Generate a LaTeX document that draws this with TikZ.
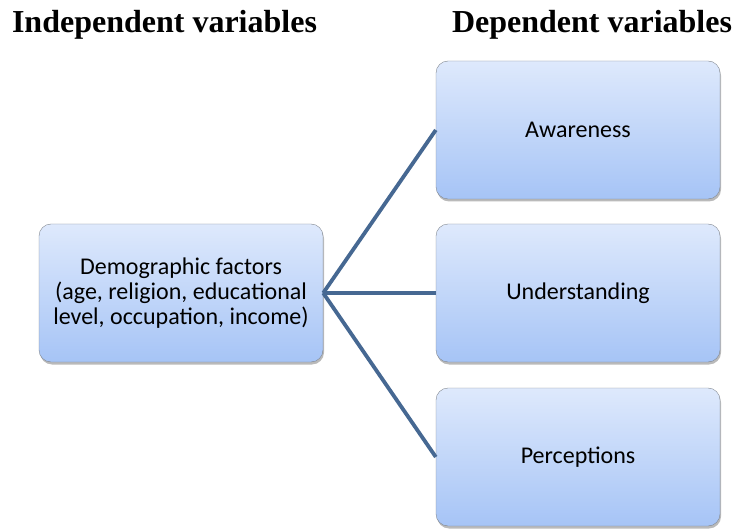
\documentclass[tikz,border=0pt]{standalone}
\usepackage{fontspec}
\setmainfont{Liberation Serif}
\newfontfamily\boxfont{Carlito}
\usepackage{tikz}
\usetikzlibrary{
  arrows.meta,
  shadows
}
\definecolor{boxtop}{RGB}{222,233,252}
\definecolor{boxbottom}{RGB}{166,196,246}
\definecolor{boxedge}{RGB}{128,134,142}
\definecolor{linkblue}{RGB}{70,104,146}
\tikzset{
  varbox/.style={draw=boxedge,thin,top color=boxtop,bottom color=boxbottom,
    rounded corners=12pt,align=center,inner sep=0pt,
    minimum width=284pt,minimum height=138pt,
    font=\boxfont\fontsize{24}{25}\selectfont,
    drop shadow={shadow xshift=1pt,shadow yshift=-2.5pt,opacity=0.45,fill=black!60}},
  link/.style={line width=3.8pt,draw=linkblue},
  heading/.style={font=\bfseries\fontsize{32}{36}\selectfont,inner sep=0pt,anchor=base}
}
\begin{document}
\begin{tikzpicture}[x=1pt,y=-1pt]
  \useasboundingbox (0,0) rectangle (736,529);
  \node[heading] (indep) at (164.5,33) {Independent variables};
  \node[heading] (dep) at (592,33) {Dependent variables};
  \node[varbox] (demo) at (181,293) {Demographic factors\\(age, religion, educational\\level, occupation, income)};
  \node[varbox] (aware) at (578,130) {Awareness};
  \node[varbox] (under) at (578,293) {Understanding};
  \node[varbox] (perc) at (578,457) {Perceptions};
  \draw[link] (demo.east)--(aware.west);
  \draw[link] (demo.east)--(under.west);
  \draw[link] (demo.east)--(perc.west);
\end{tikzpicture}
\end{document}
